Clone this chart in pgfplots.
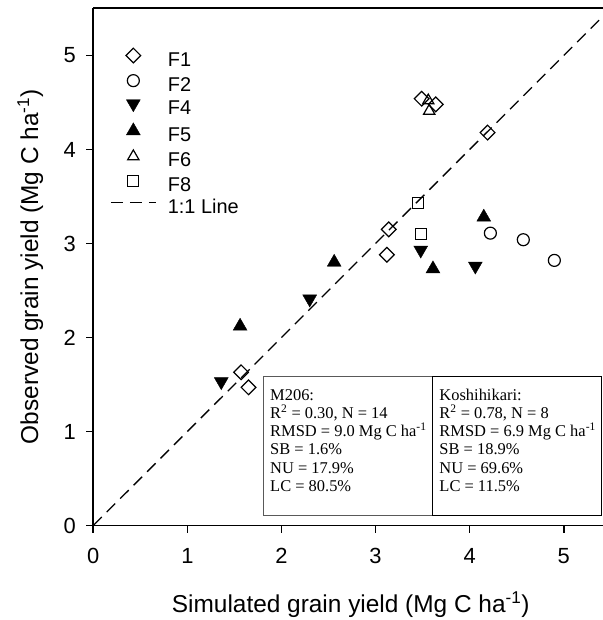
\documentclass[border=0pt]{standalone}
\usepackage{pgfplots}
\pgfplotsset{compat=1.18}
\usepackage{fontspec}
\setmainfont{Liberation Sans}
\newfontfamily\tnr{Liberation Serif}
\pgfplotsset{lineleg/.style={legend image code/.code={\path[draw=none,fill=none] (0bp,6bp) -- (57bp,6bp); \draw[##1] (0bp,6bp) -- (45bp,6bp);}}}

\begin{document}
\begin{tikzpicture}
\begin{axis}[
  at={(0,0)}, anchor=south west,
  scale only axis, width=509.7bp, height=517.5bp,
  xmin=0, xmax=5.417, ymin=0, ymax=5.505,
  axis x line=box, axis y line=left,
  axis line style={-, line width=1.8bp, black},
  tick align=outside, major tick length=7bp,
  tick style={line width=1.6bp, black},
  xtick={0,1,2,3,4,5}, ytick={0,1,2,3,4,5},
  xtick pos=bottom, ytick pos=left,
  /pgf/number format/assume math mode=true,
  tick label style={font=\fontsize{22}{22}\selectfont},
  xticklabel style={yshift=-12bp},
  yticklabel style={xshift=-7bp},
  every axis x label/.style={at={(axis description cs:0.505,-0.1536)}, anchor=center},
  every axis y label/.style={at={(axis description cs:-0.1236,0.5)}, rotate=90, anchor=center},
  label style={font=\fontsize{24.5}{24.5}\selectfont},
  xlabel={Simulated grain yield (Mg C ha\textsuperscript{-1})},
  ylabel={Observed grain yield (Mg C ha\textsuperscript{-1})},
  legend style={draw=none, fill=none, at={(axis description cs:0,1)}, anchor=north west,
    xshift=13.7bp, yshift=-38bp, font=\fontsize{20}{20}\selectfont,
    row sep=4.6bp, nodes={inner sep=0pt, text height=13bp, text depth=4bp}},
  legend cell align=left,
  legend image code/.code={\path[draw=none,fill=none] (0bp,6bp) -- (57bp,6bp);
    \draw[#1] plot coordinates {(22.5bp,6bp)};},
]
% F1
\addplot[only marks, mark=square, mark size=5.2bp, mark options={rotate=45, line width=1.2bp, black}]
  coordinates {(3.49,4.54)(3.64,4.48)(4.19,4.18)(3.14,3.15)(3.12,2.88)(1.57,1.63)(1.65,1.47)};
\addlegendentry{F1}
% F2
\addplot[only marks, mark=o, mark size=6bp, mark options={line width=1.2bp, black}]
  coordinates {(4.22,3.11)(4.57,3.04)(4.90,2.82)};
\addlegendentry{F2}
% F4
\addplot[only marks, mark=triangle*, mark size=8bp, mark options={rotate=180, black, fill=black}]
  coordinates {(3.48,2.93)(4.06,2.76)(2.30,2.41)(1.36,1.53)};
\addlegendentry{F4}
% F5
\addplot[only marks, mark=triangle*, mark size=8bp, mark options={black, fill=black}]
  coordinates {(2.56,2.80)(1.56,2.12)(3.61,2.73)(4.15,3.28)};
\addlegendentry{F5}
% F6
\addplot[only marks, mark=triangle, mark size=6.5bp, mark options={line width=1.2bp, black}]
  coordinates {(3.56,4.52)(3.57,4.41)};
\addlegendentry{F6}
% F8
\addplot[only marks, mark=square, mark size=5.5bp, mark options={line width=1.2bp, black}]
  coordinates {(3.45,3.43)(3.48,3.10)};
\addlegendentry{F8}
% 1:1 line
\addplot[black, line width=1.3bp, dash pattern=on 12bp off 7bp, no marks, lineleg]
  coordinates {(0,0)(5.6,5.6)};
\addlegendentry{1:1 Line}

% statistics boxes
\draw[gray!70!black, line width=1bp] (axis cs:1.81,0.11) rectangle (axis cs:3.60,1.59);
\draw[black, line width=0.8bp] (axis cs:3.60,0.11) rectangle (axis cs:5.40,1.59);
\begin{scope}[every node/.style={anchor=base west, inner sep=0pt, font=\tnr\fontsize{16.5}{16.5}\selectfont}]
\node at (axis cs:1.878,1.335) {M206:};
\node at (axis cs:1.878,1.140) {R\textsuperscript{2} = 0.30, N = 14};
\node at (axis cs:1.878,0.946) {RMSD = 9.0 Mg C ha\textsuperscript{-1}};
\node at (axis cs:1.878,0.751) {SB = 1.6\%};
\node at (axis cs:1.878,0.556) {NU = 17.9\%};
\node at (axis cs:1.878,0.362) {LC = 80.5\%};
\node at (axis cs:3.677,1.335) {Koshihikari:};
\node at (axis cs:3.677,1.140) {R\textsuperscript{2} = 0.78, N = 8};
\node at (axis cs:3.677,0.946) {RMSD = 6.9 Mg C ha\textsuperscript{-1}};
\node at (axis cs:3.677,0.751) {SB = 18.9\%};
\node at (axis cs:3.677,0.556) {NU = 69.6\%};
\node at (axis cs:3.677,0.362) {LC = 11.5\%};
\end{scope}
\end{axis}
\pgfresetboundingbox
\path (-93.3bp,-94.5bp) rectangle (509.7bp,525.5bp);
\end{tikzpicture}
\end{document}
